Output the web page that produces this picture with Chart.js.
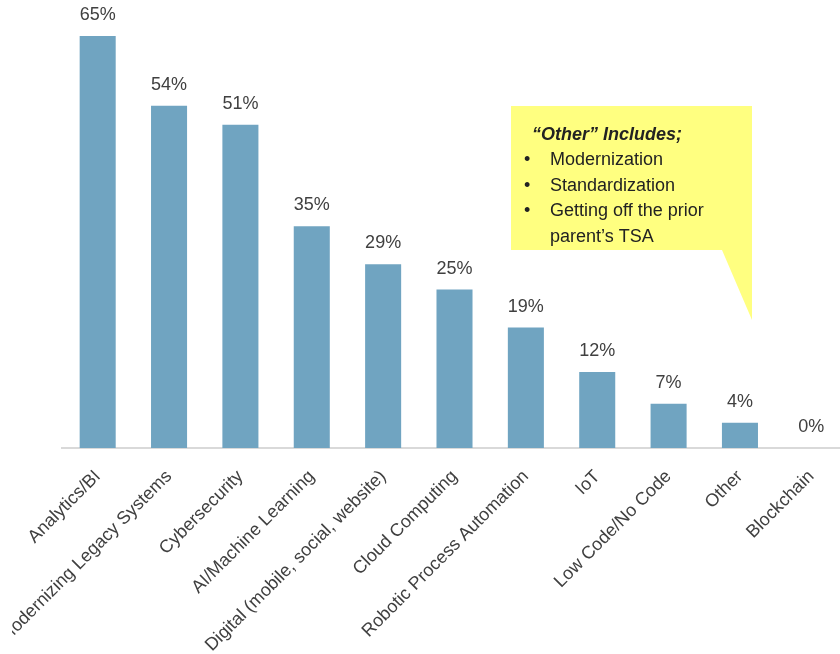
<!DOCTYPE html>
<html>
<head>
<meta charset="utf-8">
<script src="https://cdn.jsdelivr.net/npm/chart.js@4.4.1/dist/chart.umd.min.js"></script>
<style>
html,body{margin:0;padding:0;background:#fff;overflow:hidden;width:840px;height:654px;}
#wrap{position:absolute;left:0;top:0;width:850px;height:654px;}
</style>
</head>
<body>
<div id="wrap"><canvas id="c" width="850" height="654"></canvas></div>
<script>
const categories = ["Analytics/BI","Modernizing Legacy Systems","Cybersecurity","AI/Machine Learning","Digital (mobile, social, website)","Cloud Computing","Robotic Process Automation","IoT","Low Code/No Code","Other","Blockchain"];
const values = [65,54,51,35,29,25,19,12,7,4,0];
const calloutTitle = "\u201cOther\u201d Includes;";
const calloutLines = [["\u2022","Modernization"],["\u2022","Standardization"],["\u2022","Getting off the prior"],["","parent\u2019s TSA"]];

const FONT = "'Liberation Sans', Arial, sans-serif";
const TEXT = "#404040";

const valueLabels = {
  id: 'valueLabels',
  afterDatasetsDraw(chart) {
    const ctx = chart.ctx;
    const meta = chart.getDatasetMeta(0);
    ctx.save();
    ctx.font = "18px " + FONT;
    ctx.fillStyle = TEXT;
    ctx.textAlign = 'center';
    ctx.textBaseline = 'middle';
    meta.data.forEach((bar, i) => {
      ctx.fillText(values[i] + '%', bar.x, bar.y - 21);
    });
    ctx.restore();
  }
};

const callout = {
  id: 'callout',
  afterDraw(chart) {
    const ctx = chart.ctx;
    ctx.save();
    // frame edge clip on the left, as in the original slide
    ctx.fillStyle = '#ffffff';
    ctx.fillRect(0, chart.chartArea.bottom + 2, 12, chart.height);
    ctx.fillStyle = '#ffff80';
    ctx.beginPath();
    ctx.moveTo(511, 106);
    ctx.lineTo(752, 106);
    ctx.lineTo(752, 320);
    ctx.lineTo(722, 250);
    ctx.lineTo(511, 250);
    ctx.closePath();
    ctx.fill();
    ctx.fillStyle = '#222';
    ctx.textBaseline = 'middle';
    ctx.textAlign = 'left';
    ctx.font = "italic bold 18px " + FONT;
    ctx.fillText(calloutTitle, 532, 135);
    ctx.font = "18px " + FONT;
    calloutLines.forEach((l, i) => {
      const y = 160.5 + i * 25.5;
      if (l[0]) ctx.fillText(l[0], 524, y);
      ctx.fillText(l[1], 550, y);
    });
    ctx.restore();
  }
};

new Chart(document.getElementById('c'), {
  type: 'bar',
  data: {
    labels: categories,
    datasets: [{
      data: values,
      backgroundColor: '#70a4c1',
      borderWidth: 0,
      barPercentage: 0.505,
      categoryPercentage: 1.0
    }]
  },
  options: {
    responsive: false,
    animation: false,
    devicePixelRatio: 1,
    layout: { padding: { left: 62, right: 3, top: 0, bottom: 0 } },
    plugins: { legend: { display: false }, tooltip: { enabled: false } },
    scales: {
      y: { display: false, min: 0, max: 70.7 },
      x: {
        grid: { display: false, drawTicks: false },
        border: { display: true, color: '#d9d9d9', width: 2 },
        ticks: {
          color: TEXT,
          font: { family: FONT, size: 18 },
          minRotation: 45,
          maxRotation: 45,
          autoSkip: false,
          padding: 18,
          labelOffset: 0
        },
        afterFit(scale) { scale.height = 206; }
      }
    }
  },
  plugins: [valueLabels, callout]
});
</script>
</body>
</html>
